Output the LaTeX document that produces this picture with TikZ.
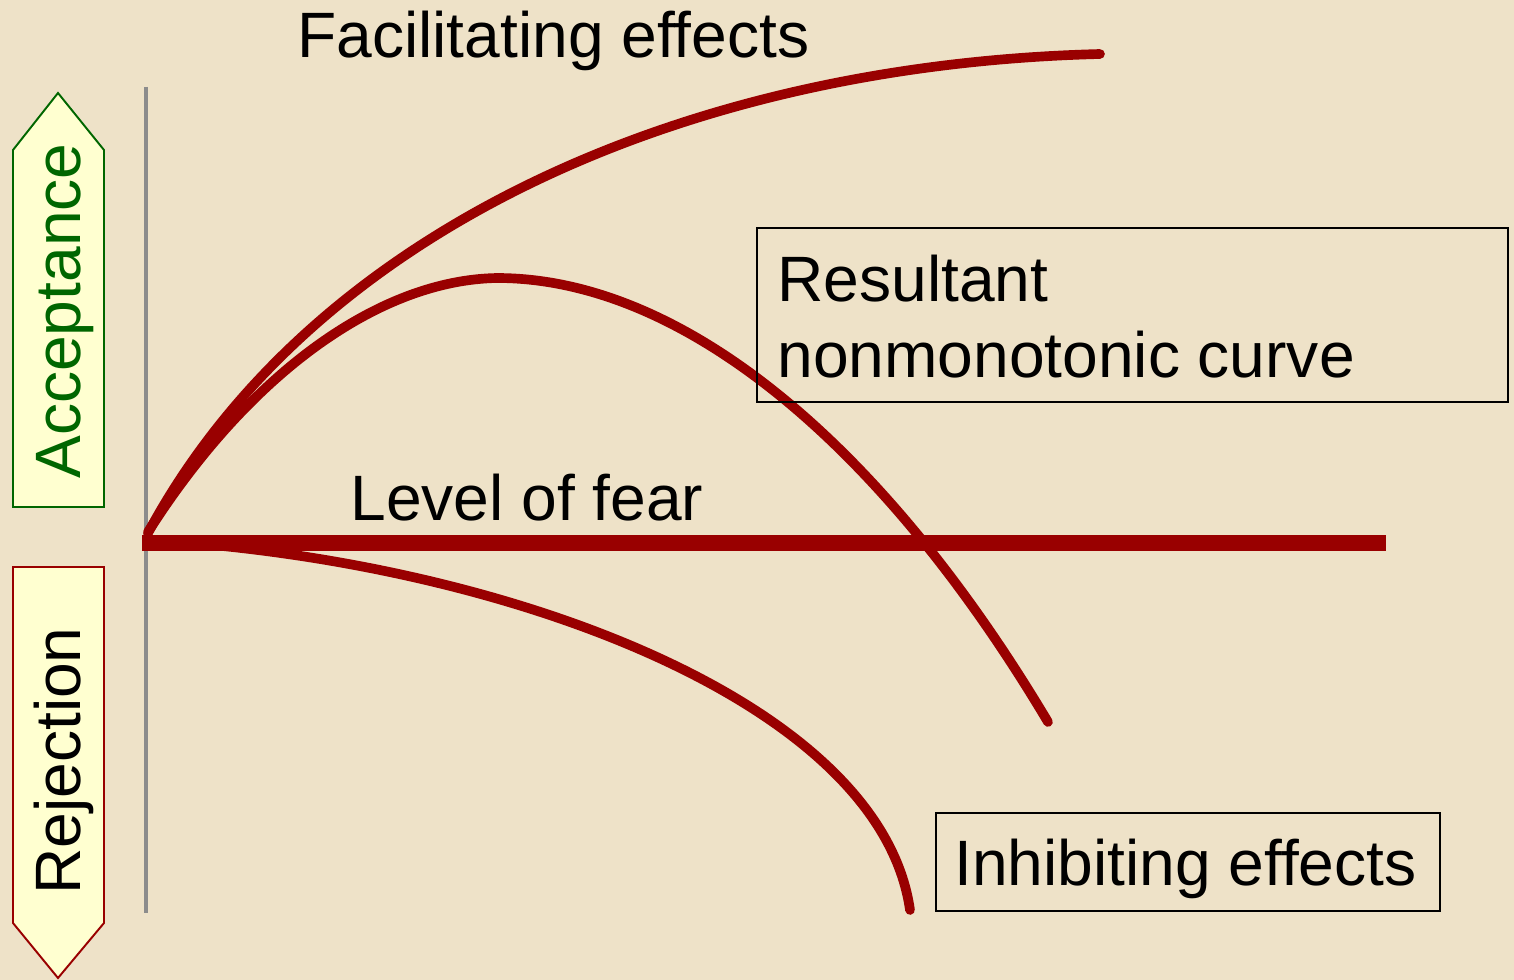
\documentclass[tikz,border=0pt]{standalone}
\usepackage{fontspec}
\setmainfont{Liberation Sans}
\usetikzlibrary{calc}

\definecolor{paper}{HTML}{EEE2C8}
\definecolor{curvered}{HTML}{990000}
\definecolor{accgreen}{HTML}{006600}
\definecolor{tagfill}{HTML}{FFFFD0}

\tikzset{
  lbl/.style={inner sep=0pt, anchor=base west, font=\fontsize{36.5}{43}\selectfont},
  effect/.style={curvered, line width=5.5pt, line cap=round},
  tagbox/.style={fill=tagfill, line width=1.1pt, line join=miter},
}

\begin{document}
\begin{tikzpicture}[x=0.02cm, y=-0.02cm]

\fill[paper] (0, 0) rectangle (1514, 980);
\useasboundingbox (0, 0) rectangle (1514, 980);

% acceptance / rejection tags
\filldraw[tagbox, draw=accgreen] (13, 507) -- (13, 150) -- (58, 93) -- (104, 150) -- (104, 507) -- cycle;
\filldraw[tagbox, draw=curvered] (13, 567) -- (13, 923) -- (58, 978) -- (104, 923) -- (104, 567) -- cycle;
\node[lbl, rotate=90, text=accgreen] (accept) at (80, 479) {Acceptance};
\node[lbl, rotate=90] (reject) at (80, 895) {Rejection};

% axes
\coordinate (o) at (146, 540);
\draw[gray!90, line width=2.8pt] (146, 87) -- (146, 913);
\coordinate (fearend) at (1386, 543);
\draw[curvered, line width=9pt] (142, 543) -- (fearend);

% curves
\coordinate (facend) at (1100, 54);
\coordinate (top) at (497, 278);
\coordinate (resend) at (1048, 722);
\coordinate (inhend) at (910, 910);
\draw[effect] (148, 533) .. controls (305, 240) and (670, 65) .. (facend);
\draw[effect] (148, 532) .. controls (250, 372) and (380, 280) .. (top)
  .. controls (680, 278) and (880, 440) .. (resend);
\draw[effect] (148, 540) .. controls (500, 560) and (880, 700) .. (inhend);

% labels
\node[lbl] (fac) at (297, 58) {Facilitating effects};
\node[lbl] (fear) at (350, 520) {Level of fear};
\node[lbl] (res1) at (777, 301) {Resultant};
\node[lbl] (res2) at (777, 377) {nonmonotonic curve};
\draw[line width=1.1pt] (757, 228) rectangle (1508, 402);
\node[lbl] (inh) at (954, 885) {Inhibiting effects};
\draw[line width=1.1pt] (936, 813) rectangle (1440, 911);

\end{tikzpicture}
\end{document}
